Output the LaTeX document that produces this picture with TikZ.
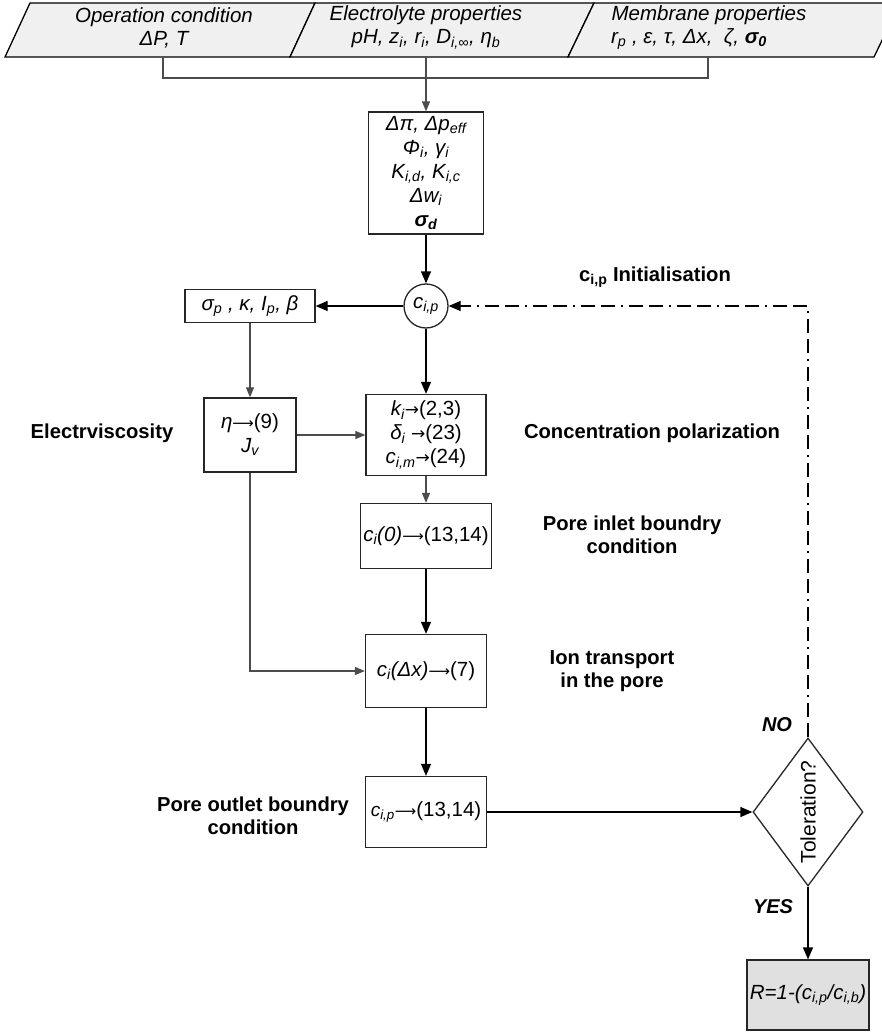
\documentclass[tikz,border=0pt]{standalone}
\usepackage{fontspec}
\setmainfont{Liberation Sans}
\newfontfamily\djv{DejaVu Sans}
\usetikzlibrary{arrows.meta,shapes.geometric}
\newcommand{\sbs}[1]{\textsubscript{#1}}
\newcommand{\larr}{{\upshape\djv\fontsize{15}{15}\selectfont ⟶}}
\newcommand{\rarr}{{\upshape\djv\fontsize{17}{17}\selectfont →}}
\begin{document}
\begin{tikzpicture}[x=1pt,y=-1pt,
  box/.style={draw=black!85,line width=1.3pt,fill=white,inner sep=0pt,align=center,
    font=\fontsize{20.5}{24}\selectfont\itshape},
  ban/.style={align=center,inner sep=0pt,font=\fontsize{20.5}{23}\selectfont\itshape},
  lbl/.style={align=center,inner sep=0pt,font=\fontsize{20.2}{23.5}\selectfont\bfseries},
  blk/.style={draw=black,line width=1.3pt,-{Triangle[length=12pt,width=10pt]}},
  gry/.style={draw=black!70,line width=1.2pt,-{Triangle[length=10pt,width=8pt]}},
  gryline/.style={draw=black!70,line width=1.2pt},
  dashdotline/.style={draw=black,line width=1.3pt,dash pattern=on 14pt off 6pt on 14pt off 6pt on 2pt off 6pt,
    -{Triangle[length=12pt,width=10pt]}},
]
\useasboundingbox (0,0) rectangle (882,1032);

% banner
\filldraw[fill=black!6,draw=black,line width=1.3pt] (5,57) -- (290,57) -- (315,3) -- (30,3) -- cycle;
\filldraw[fill=black!6,draw=black,line width=1.3pt] (290,57) -- (568,57) -- (594,3) -- (315,3) -- cycle;
\filldraw[fill=black!6,draw=black,line width=1.3pt] (568,57) -- (874,57) -- (900,3) -- (594,3) -- cycle;

\node[ban] (op) at (164,27.5) {Operation condition\\ΔP, T};
\node[ban] (el) at (426,27.5) {Electrolyte properties\\pH, z\sbs{i}, r\sbs{i}, D\sbs{i,∞}, η\sbs{b}};
\node[ban] (mem) at (709,27.5) {Membrane properties\\r\sbs{p} , ε, τ, Δx,\ \ ζ, \textbf{σ\sbs{0}}\hspace*{40pt}};

\coordinate (opb) at (163,57);
\coordinate (elb) at (426,57);
\coordinate (memb) at (708,57);
\coordinate (jn) at (426,78);

% main column
\node[box,minimum width=115,minimum height=122] (prm) at (426,173)
  {Δπ, Δp\sbs{eff}\\Φ\sbs{i}, γ\sbs{i}\\K\sbs{i,d}, K\sbs{i,c}\\Δw\sbs{i}\\\textbf{σ\sbs{d}}};
\node[box,circle,minimum size=44] (cip) at (426,306) {c\sbs{i,p}};
\node[box,minimum width=130,minimum height=33] (sig) at (250,306) {σ\sbs{p} , κ, I\sbs{p}, β};
\node[box,minimum width=92,minimum height=74] (eta) at (250,435) {η\larr{\upshape(9)}\\J\sbs{v}};
\node[box,minimum width=120,minimum height=81] (kb) at (426,435)
  {k\sbs{i}\rarr{\upshape(2,3)}\\δ\sbs{i} \rarr{\upshape(23)}\\c\sbs{i,m}\rarr{\upshape(24)}};
\node[box,minimum width=131,minimum height=65] (c0) at (426,536) {c\sbs{i}(0)\larr{\upshape(13,14)}};
\node[box,minimum width=121,minimum height=73] (cdx) at (426,671) {c\sbs{i}(Δx)\larr{\upshape(7)}};
\node[box,minimum width=121,minimum height=71] (cp) at (426,812) {{\fontsize{19}{19}\selectfont c\sbs{i,p}}\larr{\upshape(13,14)}};
\node[draw=black!85,line width=1.3pt,diamond,minimum width=110,minimum height=148,inner sep=0pt] (tol) at (808,812) {};
\node[rotate=90,inner sep=0pt,font=\fontsize{21}{21}\selectfont] (toltext) at (tol.center) {Toleration?};
\node[box,fill=black!12,minimum width=122,minimum height=70] (res) at (808,995) {R=1-(c\sbs{i,p}/c\sbs{i,b})};

% labels
\node[lbl] (linit) at (655,277) {c\sbs{i,p} Initialisation};
\node[lbl] (lelec) at (102,433) {Electrviscosity};
\node[lbl] (lconc) at (652,433) {Concentration polarization};
\node[lbl] (linlet) at (632,535) {Pore inlet boundry\\condition};
\node[lbl] (lion) at (612,671) {Ion transport\\in the pore};
\node[lbl] (lout) at (253,816) {Pore outlet boundry\\condition};
\node[lbl,font=\fontsize{20}{23}\selectfont\bfseries\itshape] (lno) at (777,725) {NO};
\node[lbl,font=\fontsize{20}{23}\selectfont\bfseries\itshape] (lyes) at (773,907) {YES};

% connectors
\draw[gryline] (opb) |- (jn) -| (memb);
\draw[gry] (elb) -- (prm.north);
\draw[blk] (prm.south) -- (cip.north);
\draw[blk] (cip.west) -- (sig.east);
\draw[blk] (cip.south) -- (kb.north);
\draw[gry] (sig.south) -- (eta.north);
\draw[gry] (eta.east) -- (eta.east -| kb.west);
\draw[gry] (kb.south) -- (c0.north);
\draw[blk] (c0.south) -- (cdx.north);
\draw[gry] (eta.south) |- (cdx.west);
\draw[blk] (cdx.south) -- (cp.north);
\draw[blk] (cp.east) -- (tol.west);
\draw[blk] (tol.south) -- (res.north);
\draw[dashdotline] (tol.north) |- (cip.east);
\end{tikzpicture}
\end{document}
